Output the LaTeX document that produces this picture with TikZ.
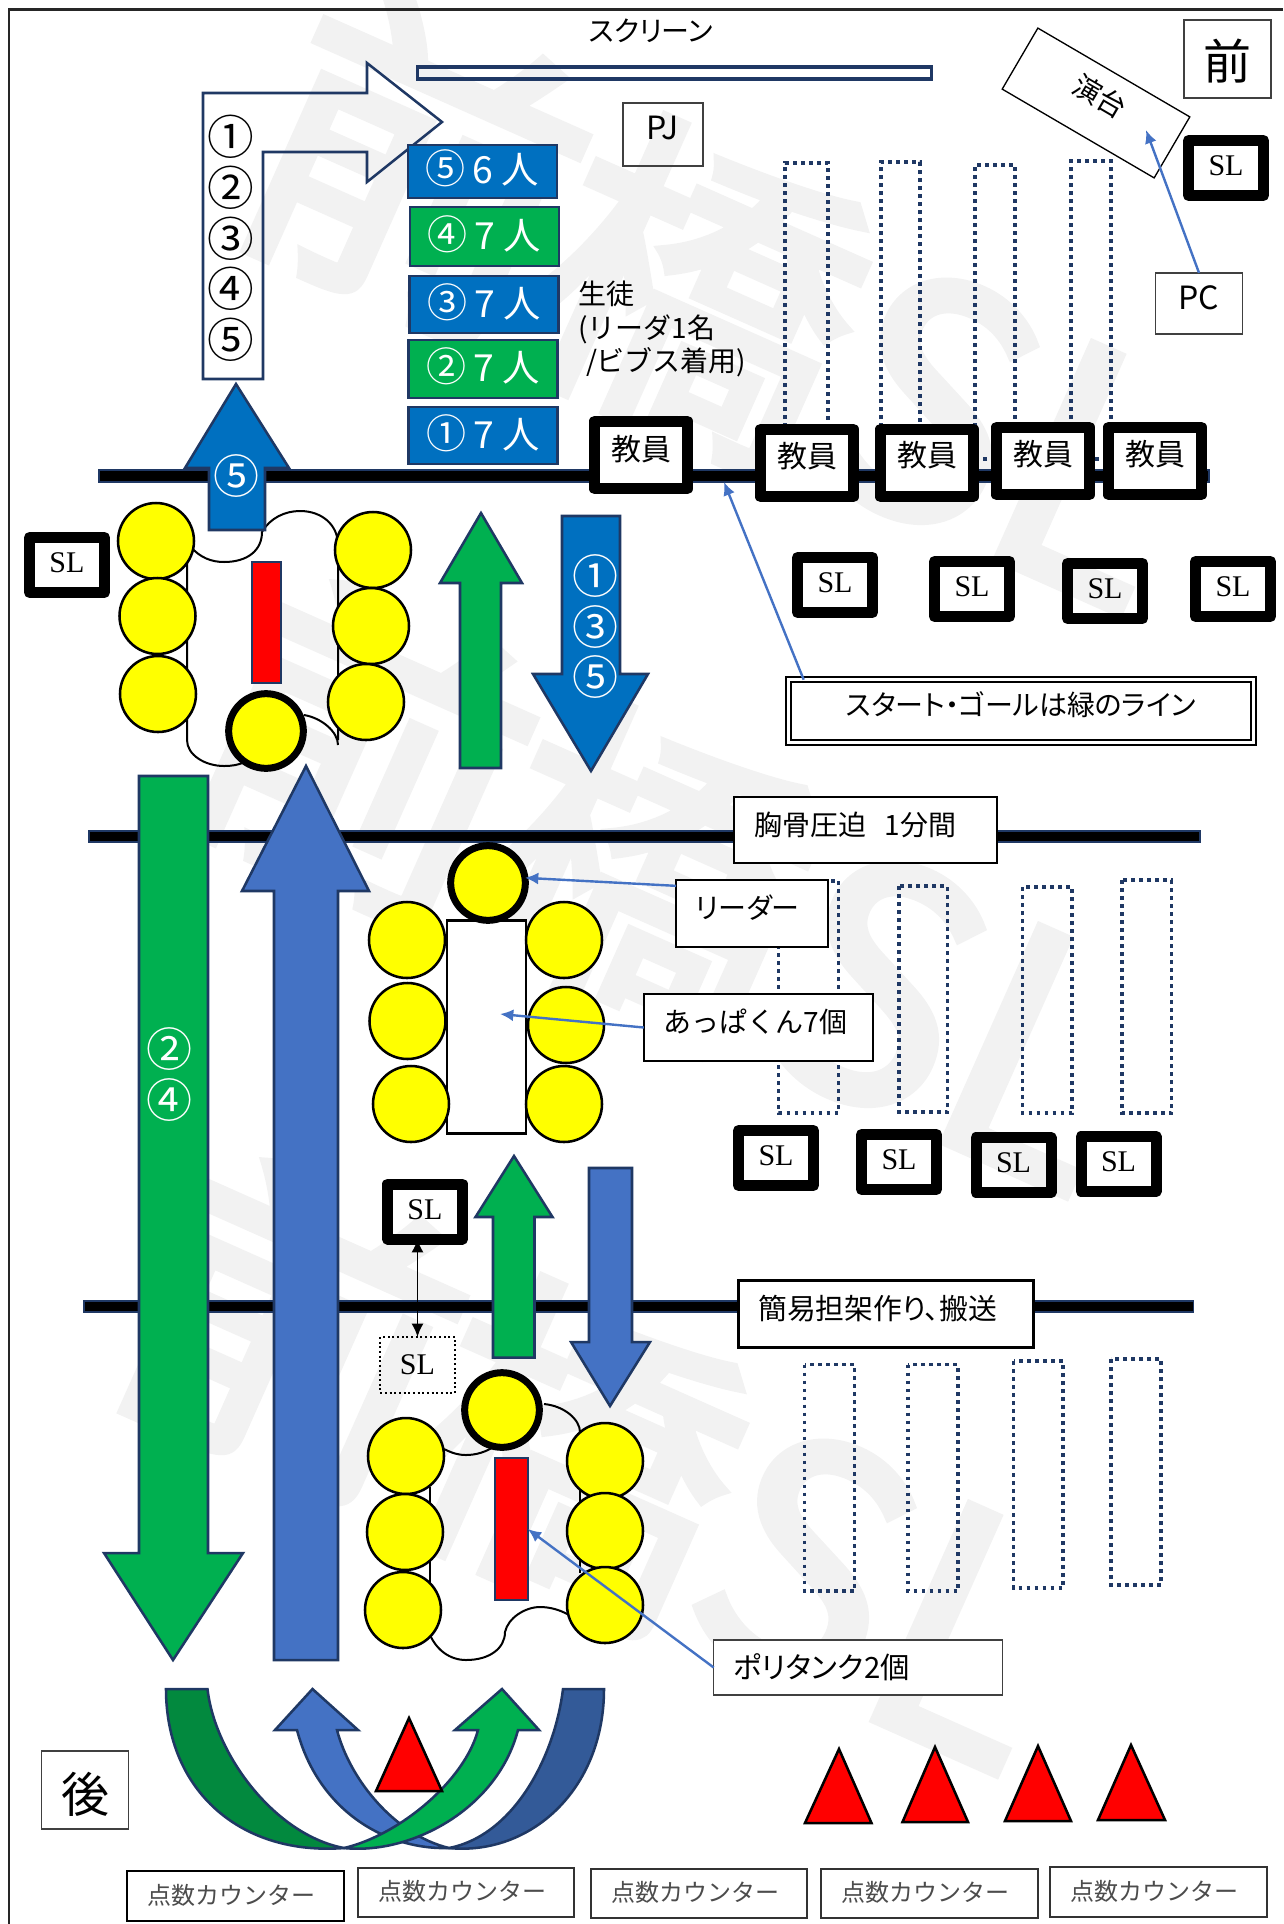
\documentclass[tikz,border=0pt]{standalone}
\usepackage{xcolor}
\usepackage{fontspec}
\usepackage{tikz}
\setmainfont{Noto Sans CJK JP}[RawFeature={+palt}]
\newfontfamily\widefont{Noto Sans CJK JP}
\newfontfamily\markfont{Noto Sans CJK JP}[FakeBold=3]
\newfontfamily\slfont{Liberation Serif}
\definecolor{slblue}{RGB}{0, 112, 192}
\definecolor{slgreen}{RGB}{0, 176, 80}
\definecolor{slmid}{RGB}{68, 114, 196}
\definecolor{sldarkgreen}{RGB}{2, 137, 62}
\definecolor{sldarkblue}{RGB}{51, 90, 152}
\definecolor{slnavy}{RGB}{31, 56, 100}
\definecolor{slmark}{RGB}{242, 242, 242}
\definecolor{slyellow}{RGB}{255, 255, 0}
\newcommand{\lift}[1]{\raisebox{9.6pt}{#1}}
\newcommand{\teamtext}[2]{{\fontsize{30}{30}\selectfont #1}\hspace{5pt}#2\ 人}
\usetikzlibrary{arrows.meta,calc}

\begin{document}
\begin{tikzpicture}[x=0.75pt, y=-0.75pt, every node/.style={inner sep=0pt, outer sep=0pt}]
    % Define styles
    \tikzstyle{watermark} = [text=slmark, anchor=base east, rotate=-24, font=\fontsize{240}{240}\markfont]
    \tikzstyle{teambox} = [rectangle, draw=slnavy, line width=1.9pt, minimum width=112pt, text=white,
                           font=\fontsize{28}{30}\selectfont]
    \tikzstyle{seat} = [draw=slnavy, line width=2.8pt, dash pattern=on 2.8pt off 3.2pt]
    \tikzstyle{gridline} = [draw=slnavy, fill=black, line width=0.9pt]
    \tikzstyle{bigarrow} = [draw=slnavy, line width=1.9pt, line join=miter]
    \tikzstyle{ring} = [white, font=\fontsize{34.5}{34.5}\selectfont]
    \tikzstyle{bentmark} = [font=\fontsize{35}{35}\selectfont]
    \tikzstyle{slbox} = [rectangle, draw=black, line width=8.25pt, line join=round, minimum width=56.25pt,
                         minimum height=41.25pt, text depth=3pt, font=\fontsize{22.5}{22.5}\slfont]
    \tikzstyle{staffbox} = [rectangle, draw=black, fill=white, line width=8.6pt, line join=round,
                            minimum width=69.4pt, minimum height=50.6pt, font=\fontsize{22.5}{22.5}\selectfont]
    \tikzstyle{labelbox} = [rectangle, draw=black, fill=white, line width=1.9pt, align=left, inner xsep=15pt,
                            font=\fontsize{21}{25}\selectfont]
    \tikzstyle{plainbox} = [rectangle, draw=black!75, line width=1.2pt, font=\fontsize{24}{24}\selectfont]
    \tikzstyle{counter} = [rectangle, draw=black!80, line width=1.5pt, fill=white, minimum width=162.5pt,
                           minimum height=37pt, text=black!70, text depth=3pt, execute at end node={\hspace*{6pt}},
                           font=\fontsize{18}{18}\widefont]
    \tikzstyle{person} = [circle, draw=black, fill=slyellow, line width=1.9pt, minimum size=57pt]
    \tikzstyle{leader} = [circle, draw=black, fill=slyellow, line width=5.25pt, minimum size=56pt]
    \tikzstyle{tank} = [rectangle, draw=slnavy, fill=red, line width=1.6pt]
    \tikzstyle{cone} = [draw=black, fill=red, line width=1.9pt, line join=miter]
    \tikzstyle{mat} = [draw=black, line width=1.5pt]
    \tikzstyle{pointer} = [-{Latex[length=10pt, width=9pt]}, slmid, line width=1.8pt]

    \useasboundingbox (0,0) rectangle (1283,1924);

    % Watermark
    \node[watermark] (markone) at (1127,616) {前\hspace{-10pt}橋SL};
    \node[watermark] (marktwo) at (1074,1199) {前\hspace{-10pt}橋SL};
    \node[watermark] (markthree) at (1004,1777) {前\hspace{-10pt}橋SL};

    % Sheet edge
    \draw[line width=1.7pt, black!85] (9,1924) -- (9,9.5) -- (1283,9.5);

    % Seats
    \draw[seat] (785,459) -- (785,163) -- (828,163) -- (828,459) -- cycle;
    \draw[seat] (881,459) -- (881,162) -- (920,162) -- (920,459) -- cycle;
    \draw[seat] (975,459) -- (975,165) -- (1015,165) -- (1015,459) -- cycle;
    \draw[seat] (1071,459) -- (1071,161) -- (1111,161) -- (1111,459) -- cycle;

    \draw[seat] (778.5,881) rectangle (838.5,1113);
    \draw[seat] (899,886) rectangle (947.5,1112);
    \draw[seat] (1022.5,887) rectangle (1072,1113);
    \draw[seat] (1122,880) rectangle (1171.5,1113);

    \draw[seat] (804.5,1364.5) rectangle (854.5,1591);
    \draw[seat] (908,1364.5) rectangle (958,1591);
    \draw[seat] (1013.5,1361) rectangle (1063,1588);
    \draw[seat] (1111,1359) rectangle (1161,1585);

    % Lines across the room
    \draw[gridline] (99,470) rectangle (1209,482);
    \draw[gridline] (89,831) rectangle (1200,842);
    \draw[gridline] (84,1301) rectangle (1193.5,1312);

    % Front of the room
    \node[font=\fontsize{21}{21}\selectfont] (screenlabel) at (651,31) {スクリーン};
    \node[rectangle, draw=slnavy, line width=2.4pt, minimum width=386pt, minimum height=9pt] (screenbar) at (674.5,73) {};
    \node[plainbox, minimum width=60pt, minimum height=47pt] (pjbox) at (663,134.5) {\lift{PJ}};
    \node[rectangle, draw=black, line width=1pt, minimum width=132pt, minimum height=53pt, rotate=-30.3,
          font=\fontsize{21}{21}\selectfont] (stage) at (1096,103) {\raisebox{13pt}{演台}};
    \node[plainbox, minimum width=65pt, minimum height=58.5pt, font=\fontsize{36}{36}\selectfont] (frontbox) at (1227.5,59) {\raisebox{0pt}[31pt][0pt]{前}};
    \node[plainbox, minimum width=65pt, minimum height=46pt] (pcbox) at (1199,303.5) {\lift{PC}};
    \node[slbox] (slstage) at (1226,168) {SL};
    \coordinate (stagetip) at (1146,130);
    \draw[pointer] (pcbox.north) -- (stagetip);

    % Bent arrow to the screen
    \draw[bigarrow] (203,379) -- (203,93) -- (367,93) -- (367,63) -- (442,122) -- (367,182) -- (367,152) -- (263,152) -- (263,379) -- cycle;
    \node[bentmark] (bentone) at (231,137) {①};
    \node[bentmark] (benttwo) at (231,188) {②};
    \node[bentmark] (bentthree) at (231,239) {③};
    \node[bentmark] (bentfour) at (231,289) {④};
    \node[bentmark] (bentfive) at (231,340) {⑤};

    % Teams
    \node[teambox, fill=slblue, minimum height=39.5pt] (teamfive) at (482.5,171.5) {\raisebox{7.3pt}{\teamtext{⑤}{6}}};
    \node[teambox, fill=slgreen, minimum height=44pt] (teamfour) at (484.5,236.5) {\raisebox{6.1pt}{\teamtext{④}{7}}};
    \node[teambox, fill=slblue, minimum height=43pt] (teamthree) at (484,304.5) {\raisebox{6.1pt}{\teamtext{③}{7}}};
    \node[teambox, fill=slgreen, minimum height=43.5pt] (teamtwo) at (483,369) {\raisebox{6.1pt}{\teamtext{②}{7}}};
    \node[teambox, fill=slblue, minimum height=43pt] (teamone) at (483,435.5) {\raisebox{6.6pt}{\teamtext{①}{7}}};
    \node[font=\fontsize{21}{25.2}\widefont, align=left, anchor=north west] (pupils) at (578,281) {生徒\\(リーダ1名\\\hspace*{6pt}/ビブス着用)};

    % Staff on the first line
    \node[staffbox] (staffone) at (641,455) {\raisebox{11pt}{教員}};
    \node[staffbox] (stafftwo) at (807,463) {\raisebox{12pt}{教員}};
    \node[staffbox] (staffthree) at (927,463) {\raisebox{13pt}{教員}};
    \node[staffbox] (stafffour) at (1043,461) {\raisebox{12pt}{教員}};
    \node[staffbox] (stafffive) at (1155,461) {\raisebox{12.5pt}{教員}};

    % SL row
    \node[slbox] (slleft) at (67,565) {SL};
    \node[slbox] (slupa) at (835,585) {SL};
    \node[slbox] (slupb) at (972,589) {SL};
    \node[slbox] (slupc) at (1105,591) {SL};
    \node[slbox] (slupd) at (1233,589) {SL};
    \node[slbox] (sllowa) at (776,1158) {SL};
    \node[slbox] (sllowb) at (899,1162) {SL};
    \node[slbox] (sllowc) at (1013.5,1165) {SL};
    \node[slbox] (sllowd) at (1118.5,1164) {SL};

    % Note on the green line
    \node[rectangle, draw=black, double=white, line width=1.1pt, double distance=2.6pt, minimum width=349pt,
          minimum height=47pt, font=\fontsize{21}{21}\selectfont] (startbox) at (1021,711) {\raisebox{11pt}{スタート・ゴールは緑のライン}};
    \coordinate (linetip) at (724,482);
    \draw[pointer] ($(startbox.north west)!0.033!(startbox.north east)$) -- (linetip);

    % Group one
    \draw[mat] (187,563) -- (187,740) .. controls (187,755) and (205,766) .. (224,766) .. controls (232,766) and (238,765) .. (245,762);
    \draw[mat] (190,546) .. controls (200,558) and (212,562) .. (224,562) .. controls (248,562) and (262,550) .. (262,532) .. controls (270,518) and (285,511) .. (300,511) .. controls (322,511) and (338,525) .. (338,545) -- (338,740);
    \draw[mat] (304,715) .. controls (322,718) and (338,732) .. (338,745);
    \node[tank, minimum width=21.5pt, minimum height=90.5pt] (tankone) at (266.5,622.5) {};
    \node[person] (ga) at (156,541) {};
    \node[person] (gb) at (157.5,616) {};
    \node[person] (gc) at (158,694) {};
    \node[person] (gd) at (373,550) {};
    \node[person] (ge) at (371,626) {};
    \node[person] (gf) at (366,702) {};
    \node[leader] (gleadone) at (266,731) {};

    % Arrows of the first section
    \draw[bigarrow, fill=slblue] (236,384) -- (289,468) -- (265,468) -- (265,530) -- (209,530) -- (209,468) -- (185,468) -- cycle;
    \node[ring] (upfive) at (236,476) {⑤};
    \draw[bigarrow, fill=slgreen] (481,513) -- (522,583) -- (501,583) -- (501,768) -- (460,768) -- (460,583) -- (440,583) -- cycle;
    \draw[bigarrow, fill=slblue] (562,516) -- (620,516) -- (620,674) -- (648,674) -- (591,771) -- (533,674) -- (562,674) -- cycle;
    \node[ring] (downone) at (595,576) {①};
    \node[ring] (downthree) at (595,627) {③};
    \node[ring] (downfive) at (595,677) {⑤};

    % Long arrows
    \draw[bigarrow, fill=slgreen] (139,776) -- (208,776) -- (208,1553) -- (243,1553) -- (173,1660) -- (104,1553) -- (139,1553) -- cycle;
    \node[ring] (longtwo) at (169.5,1049) {②};
    \node[ring] (longfour) at (169.5,1100.5) {④};
    \draw[bigarrow, fill=slmid] (306,766) -- (369,891) -- (338,891) -- (338,1660) -- (274,1660) -- (274,891) -- (242,891) -- cycle;

    % Group two
    \node[rectangle, draw=black, fill=white, line width=1.9pt, minimum width=59pt, minimum height=160pt] (midbox) at (486.5,1027) {};
    \node[person] (ma) at (407,940) {};
    \node[person] (mb) at (407.5,1021) {};
    \node[person] (mc) at (411,1104) {};
    \node[person] (md) at (564,940) {};
    \node[person] (me) at (566,1025) {};
    \node[person] (mf) at (564,1104) {};
    \node[leader] (mleadone) at (488,883) {};
    \node[labelbox, text width=84pt, minimum height=50pt] (leaderbox) at (752,913.5) {\lift{リーダー}};
    \node[labelbox, text width=142pt, minimum height=50pt, font=\fontsize{21}{25}\widefont] (appakubox) at (758.5,1027.5) {\lift{あっぱくん7個}};
    \node[labelbox, text width=167pt, minimum height=49.5pt] (chestbox) at (865.5,830) {\lift{胸骨圧迫\ \ 1分間}};
    \coordinate (appakutip) at (500,1014);
    \draw[pointer] (leaderbox.160) -- (mleadone.8);
    \draw[pointer] (appakubox.west) -- (appakutip);

    % SL and its second place
    \node[slbox] (slmidbox) at (425,1211.5) {SL};
    \node[rectangle, draw=black, dotted, line width=1.5pt, minimum width=56pt, minimum height=42pt, font=\fontsize{22.5}{22.5}\slfont] (sldot) at (417.5,1365) {SL};
    \draw[{Latex[length=10pt, width=9pt]}-{Latex[length=10pt, width=9pt]}, line width=1.4pt] (sldot.north |- slmidbox.south) -- (sldot.north);

    % Arrows of the third section
    \draw[bigarrow, fill=slgreen] (514,1156) -- (552.5,1217) -- (534.5,1217) -- (534.5,1357.5) -- (493,1357.5) -- (493,1217) -- (475.5,1217) -- cycle;
    \draw[bigarrow, fill=slmid] (589,1168) -- (632,1168) -- (632,1342) -- (650,1342) -- (610,1406) -- (571,1342) -- (589,1342) -- cycle;
    \node[labelbox, text width=191.5pt, minimum height=50pt, font=\fontsize{21.6}{25}\selectfont] (stretcherbox) at (886,1314) {\lift{簡易担架作り、搬送}};

    % Group three
    \draw[mat] (429.5,1487) -- (429.5,1584);
    \draw[mat] (428,1630) .. controls (435,1650) and (450,1660) .. (466,1660) .. controls (490,1660) and (505,1648) .. (505,1632) .. controls (508,1618) and (525,1607) .. (540,1607) .. controls (550,1607) and (560,1610) .. (567,1614);
    \draw[mat] (580,1489) -- (580,1573);
    \draw[mat] (544,1404) .. controls (565,1406) and (580,1420) .. (580,1432);
    \draw[mat] (444,1449) .. controls (452,1453) and (458,1455) .. (466,1455) .. controls (476,1455) and (486,1452) .. (495,1446);
    \node[tank, minimum width=24.5pt, minimum height=106.5pt] (tanktwo) at (511.5,1529) {};
    \node[person] (la) at (406,1456) {};
    \node[person] (lb) at (405,1532) {};
    \node[person] (lc) at (403,1610) {};
    \node[person] (ld) at (605,1461) {};
    \node[person] (le) at (605,1531) {};
    \node[person] (lf) at (605,1605) {};
    \node[leader] (lleadone) at (502,1410) {};
    \node[labelbox, text width=186.5pt, minimum height=41pt, line width=1.2pt, draw=black!75, font=\fontsize{22}{25}\selectfont] (polybox) at (858,1667.5) {ポリタンク2個};
    \draw[pointer] (polybox.west) -- (tanktwo.east);

    % Curved arrows at the back
    \draw[bigarrow, fill=sldarkgreen] (166,1689) -- (207.5,1689) .. controls (215,1755) and (275,1835) .. (344,1848) .. controls (240,1856) and (166,1790) .. (166,1689) -- cycle;
    \draw[bigarrow, fill=sldarkblue] (604,1689) -- (563,1689) .. controls (555,1755) and (515,1835) .. (449,1848) .. controls (530,1856) and (604,1790) .. (604,1689) -- cycle;
    \draw[bigarrow, fill=slmid] (312.5,1689) -- (358,1730) -- (337,1730) .. controls (350,1780) and (395,1835) .. (449,1848) .. controls (385,1850) and (318,1810) .. (297,1730) -- (275,1730) -- cycle;
    \draw[bigarrow, fill=slgreen] (502,1689) -- (539,1730) -- (518,1730) .. controls (497,1810) and (410,1855) .. (344,1848) .. controls (400,1835) and (465,1780) .. (478,1730) -- (455,1730) -- cycle;

    % Cones
    \draw[cone] (409,1718) -- (442,1791) -- (376,1791) -- cycle;
    \draw[cone] (839,1749) -- (871.5,1823) -- (805,1823) -- cycle;
    \draw[cone] (935,1747) -- (968,1822) -- (902.5,1822) -- cycle;
    \draw[cone] (1038,1746) -- (1071,1821) -- (1005,1821) -- cycle;
    \draw[cone] (1131,1745) -- (1165,1820) -- (1098,1820) -- cycle;

    % Back of the room
    \node[plainbox, minimum width=65.5pt, minimum height=58.5pt, font=\fontsize{36}{36}\selectfont] (backbox) at (85,1790) {\raisebox{0pt}[33pt][0pt]{後}};

    % Counters
    \node[counter, draw=black] (counterone) at (235.5,1896) {点数カウンター};
    \node[counter] (countertwo) at (466,1892.5) {点数カウンター};
    \node[counter] (counterthree) at (699,1893.5) {点数カウンター};
    \node[counter] (counterfour) at (929.5,1893.5) {点数カウンター};
    \node[counter] (counterfive) at (1158.5,1892) {点数カウンター};
\end{tikzpicture}
\end{document}
